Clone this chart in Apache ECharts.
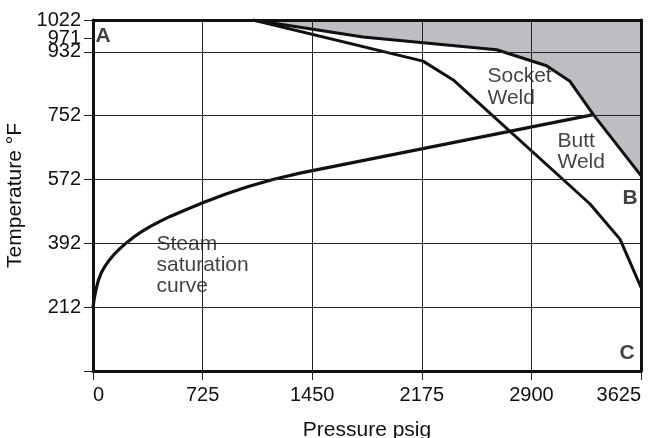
<!DOCTYPE html>
<html><head><meta charset="utf-8">
<script src="https://cdn.jsdelivr.net/npm/echarts@6/dist/echarts.min.js"></script>
<style>html,body{margin:0;padding:0;background:#fff}#c{width:649px;height:438px}</style>
</head><body><div id="c"></div>
<script>
const xTicks = [0, 725, 1450, 2175, 2900, 3625];
const yTickValues = [32, 212, 392, 572, 752, 932, 1022];
const yLabelValues = [212, 392, 572, 752, 932, 1022];
const yExtraTick = [971];
const xGrid = [725, 1450, 2175, 2900];
const yGrid = [212, 392, 572, 752, 932];

const steamCurve = [[0,212],[8,236],[20,262],[35,287],[55,309],[80,328],[110,346],[146,364],[185,380],[223,394],[270,410],[322,425],[380,440],[443,454],[510,468],[576,480],[650,493],[730,507],[870,530],[1017,551],[1190,572],[1369,590],[3310,755]];
const socketWeld = [[1058,1022],[2183,906],[2383,853],[3288,503],[3486,404],[3625,268]];
const buttWeld = [[1058,1022],[1786,974],[2670,938],[3000,893],[3155,849],[3310,755],[3625,583]];

const noteText = ['Socket\nWeld', 'Butt\nWeld'];
const notePos = [[2606, 832], [3069, 651]];
const steamNoteLines = ['Steam', 'saturation', 'curve'];
const steamNotePos = [390, 331.5];
const letterText = ['A', 'B', 'C'];
const letterPos = [[13, 977], [3499, 519.5], [3480, 83]];

const FONT = '"Liberation Sans", Arial, Helvetica, sans-serif';
const TXT = '#111';
const LINE = '#111';

const chart = echarts.init(document.getElementById('c'), null, {renderer: 'canvas'});

const noteData = [];
noteText.forEach((t, i) => noteData.push({
  value: notePos[i],
  label: {formatter: t, fontSize: 21, lineHeight: 21.5, color: TXT, fontFamily: FONT}
}));
letterText.forEach((t, i) => noteData.push({
  value: letterPos[i],
  label: {formatter: t, fontSize: 21, fontWeight: 'bold', color: TXT, fontFamily: FONT}
}));
noteData.push({
  value: steamNotePos,
  label: {
    formatter: steamNoteLines.map(s => '{b|' + s + '}').join('\n'),
    rich: {b: {fontSize: 21, lineHeight: 21, color: TXT, fontFamily: FONT, backgroundColor: '#fff', padding: [0, 4, 0, 4]}}
  }
});

const plain = v => String(v);
const yLabelStyle = {show: true, fontSize: 20, lineHeight: 13, color: TXT, fontFamily: FONT, margin: 12,
  formatter: plain, showMinLabel: true, showMaxLabel: true, hideOverlap: false};

const option = {
  animation: false,
  textStyle: {fontFamily: FONT},
  grid: {left: 93, right: 8, top: 20, bottom: 67, containLabel: false, outerBoundsMode: 'none', show: false},
  xAxis: [{
    type: 'value', min: 0, max: 3625, interval: 725, position: 'bottom', z: 10,
    axisLine: {show: true, onZero: false, lineStyle: {color: '#111', width: 3}},
    axisTick: {show: true, length: 9, lineStyle: {color: '#222', width: 1}, customValues: xTicks},
    axisLabel: {show: true, fontSize: 20, color: TXT, fontFamily: FONT, margin: 14, customValues: xTicks,
      formatter: plain, showMinLabel: true, showMaxLabel: true, hideOverlap: false,
      alignMinLabel: 'left', alignMaxLabel: 'right'},
    splitLine: {show: false},
    name: 'Pressure psig', nameLocation: 'middle', nameGap: 49,
    nameTextStyle: {fontSize: 21, color: TXT, fontFamily: FONT}
  }, {
    type: 'value', min: 0, max: 3625, position: 'top', z: 10,
    axisLine: {show: true, onZero: false, lineStyle: {color: '#111', width: 3}},
    axisTick: {show: false}, axisLabel: {show: false}, splitLine: {show: false}
  }],
  yAxis: [{
    type: 'value', min: 32, max: 1022, position: 'left', z: 10,
    axisLine: {show: true, onZero: false, lineStyle: {color: '#111', width: 3}},
    axisTick: {show: true, length: 9, lineStyle: {color: '#222', width: 1}, customValues: yTickValues},
    axisLabel: Object.assign({customValues: yLabelValues}, yLabelStyle),
    splitLine: {show: false},
    name: 'Temperature °F', nameLocation: 'middle', nameGap: 64,
    nameTextStyle: {fontSize: 21, color: TXT, fontFamily: FONT}
  }, {
    type: 'value', min: 32, max: 1022, position: 'right', z: 10,
    axisLine: {show: true, onZero: false, lineStyle: {color: '#111', width: 3}},
    axisTick: {show: false}, axisLabel: {show: false}, splitLine: {show: false}
  }, {
    type: 'value', min: 32, max: 1022, position: 'left', offset: 0, z: 10,
    axisLine: {show: false, onZero: false},
    axisTick: {show: true, length: 9, lineStyle: {color: '#222', width: 1}, customValues: yExtraTick},
    axisLabel: Object.assign({customValues: yExtraTick}, yLabelStyle),
    splitLine: {show: false}
  }],
  series: [{
    type: 'scatter', data: [], z: 1, silent: true,
    markLine: {
      silent: true, symbol: ['none', 'none'], label: {show: false},
      lineStyle: {color: '#222', width: 1, type: 'solid'},
      emphasis: {disabled: true},
      data: xGrid.map(v => ({xAxis: v})).concat(yGrid.map(v => ({yAxis: v})))
    }
  }, {
    type: 'scatter', z: 2, silent: true, symbolSize: 1,
    itemStyle: {color: 'rgba(0,0,0,0)'},
    label: {show: true, position: 'right', distance: 0, align: 'left', verticalAlign: 'middle'},
    data: noteData
  }, {
    type: 'line', z: 3, silent: true, data: buttWeld, symbol: 'none',
    lineStyle: {color: LINE, width: 3, join: 'round'},
    areaStyle: {color: '#bdbec1', opacity: 1, origin: 'end'}
  }, {
    type: 'line', z: 4, silent: true, data: socketWeld, symbol: 'none',
    lineStyle: {color: LINE, width: 3, join: 'round'}
  }, {
    type: 'line', z: 4, silent: true, data: steamCurve, symbol: 'none',
    lineStyle: {color: LINE, width: 3.2, join: 'round'}
  }]
};
chart.setOption(option);
</script></body></html>
